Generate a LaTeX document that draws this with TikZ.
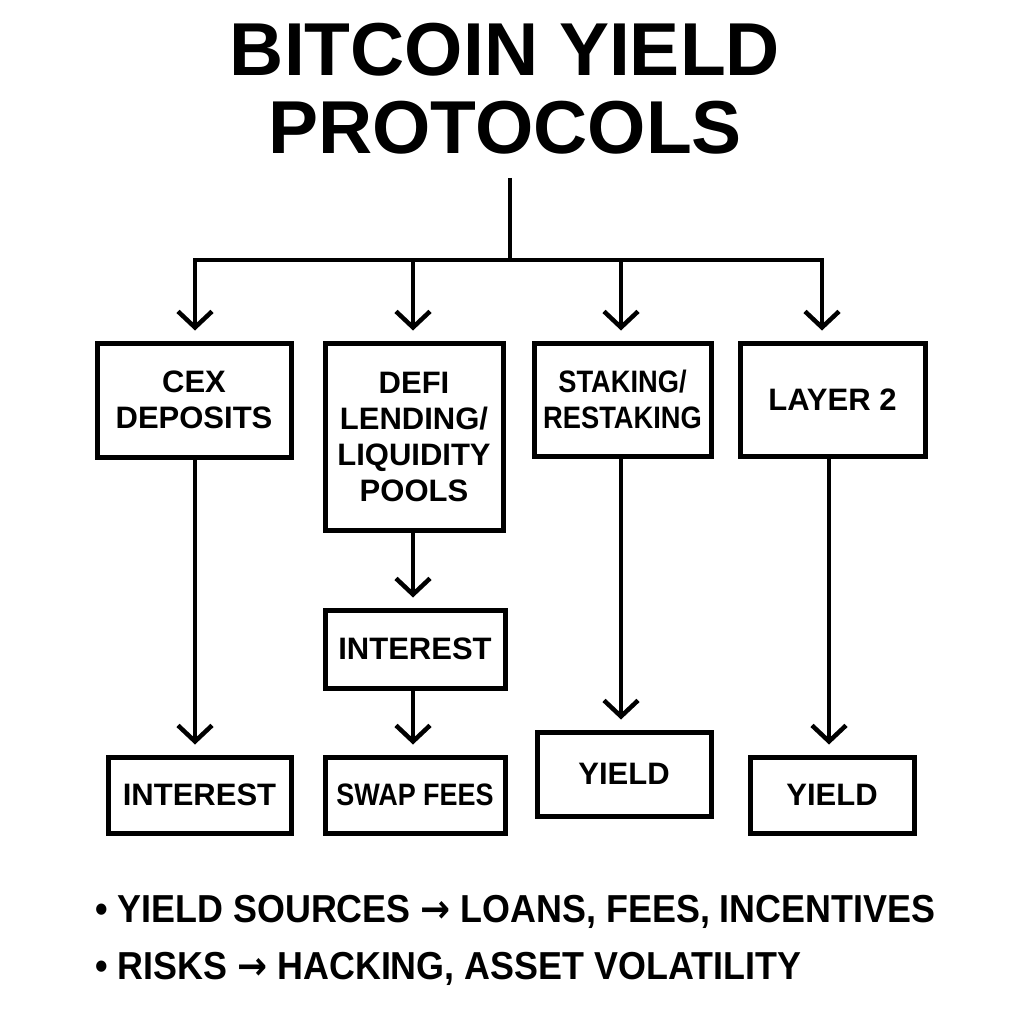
\documentclass[tikz,border=0pt]{standalone}
\usepackage{fontspec}
\usepackage{graphicx}
\setmainfont{Liberation Sans}
\newfontfamily\arrowfont{DejaVu Sans}
\usetikzlibrary{arrows.meta}
\newcommand{\narrow}[2]{\scalebox{#1}[1]{#2}}
\begin{document}
\begin{tikzpicture}[x=1pt,y=-1pt,
  box/.style={draw=black,line width=5pt,fill=white,align=center,inner sep=0pt,
    font=\fontsize{31}{36}\selectfont\bfseries},
  link/.style={line width=4.5pt,line cap=butt},
  arr/.style={link,-{Straight Barb[length=16pt,width=34pt,line width=4.5pt]},shorten >=10pt},
  bullet/.style={anchor=west,inner sep=0pt,font=\fontsize{39}{40}\selectfont\bfseries}]
\useasboundingbox[fill=white] (0,0) rectangle (1024,1024);
% title
\node[align=center,inner sep=0pt,font=\fontsize{75}{78}\selectfont\bfseries] (title) at (505,89) {BITCOIN YIELD\\PROTOCOLS};
% boxes
\node[box,minimum width=194pt,minimum height=114pt] (cex) at (194,400) {CEX\\DEPOSITS};
\node[box,minimum width=178pt,minimum height=187pt] (defi) at (414,436.5) {DEFI\\LENDING/\\LIQUIDITY\\POOLS};
\node[box,minimum width=177pt,minimum height=113pt] (stake) at (622.5,399.5) {\narrow{0.88}{STAKING/}\\\narrow{0.88}{RESTAKING}};
\node[box,minimum width=185pt,minimum height=113pt] (l2) at (832.5,399.5) {LAYER 2};
\node[box,minimum width=180pt,minimum height=78pt] (int2) at (415,649) {INTEREST};
\node[box,minimum width=183pt,minimum height=76pt] (int1) at (199.5,795) {INTEREST};
\node[box,minimum width=180pt,minimum height=76pt] (swap) at (415,795) {\narrow{0.87}{SWAP FEES}};
\node[box,minimum width=174pt,minimum height=84pt] (yield1) at (624,774) {YIELD};
\node[box,minimum width=164pt,minimum height=76pt] (yield2) at (832,795) {YIELD};
% tree
\coordinate (top) at (510,178);
\coordinate (hub) at (510,260);
\coordinate (b1) at (195,260);
\coordinate (b2) at (413,260);
\coordinate (b3) at (621,260);
\coordinate (b4) at (822,260);
\draw[link] (top) -- (hub);
\draw[link,line cap=rect] (b1) -- (b4);
\draw[arr] (b1) -- (b1 |- cex.north);
\draw[arr] (b2) -- (b2 |- defi.north);
\draw[arr] (b3) -- (b3 |- stake.north);
\draw[arr] (b4) -- (b4 |- l2.north);
% flows
\draw[arr] (b1 |- cex.south) -- (b1 |- int1.north);
\draw[arr] (b2 |- defi.south) -- (b2 |- int2.north);
\draw[arr] (b2 |- int2.south) -- (b2 |- swap.north);
\draw[arr] (b3 |- stake.south) -- (b3 |- yield1.north);
\coordinate (c4) at (829,0);
\draw[arr] (c4 |- l2.south) -- (c4 |- yield2.north);
% notes
\node[bullet] (n1) at (95,912) {\narrow{0.92}{• YIELD SOURCES {\arrowfont\bfseries →} LOANS, FEES, INCENTIVES}};
\node[bullet] (n2) at (95,969) {\narrow{0.92}{• RISKS {\arrowfont\bfseries →} HACKING, ASSET VOLATILITY}};
\end{tikzpicture}
\end{document}
